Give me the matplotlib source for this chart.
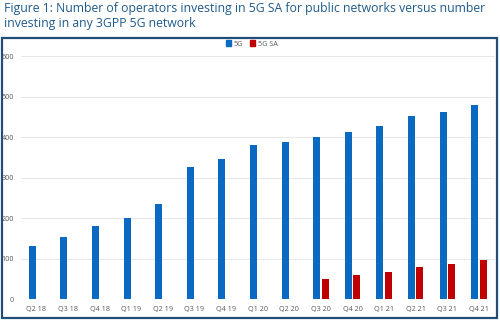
import matplotlib
matplotlib.use("Agg")
import matplotlib.pyplot as plt
import numpy as np
from matplotlib.patches import Rectangle, Patch

quarters = ["Q2 18", "Q3 18", "Q4 18", "Q1 19", "Q2 19", "Q3 19", "Q4 19",
            "Q1 20", "Q2 20", "Q3 20", "Q4 20", "Q1 21", "Q2 21", "Q3 21", "Q4 21"]
any_5g = [132, 153, 181, 200, 234, 326, 347, 381, 387, 401, 412, 427, 453, 463, 480]
sa_5g = [0, 0, 0, 0, 0, 0, 0, 0, 0, 49, 59, 66, 80, 87, 97]

BLUE = "#0a6ac2"
RED = "#c00000"
NAVY = "#1f4e79"
TXT = "#595959"

plt.rcParams["font.family"] = ["Open Sans", "DejaVu Sans"]

fig = plt.figure(figsize=(5.0, 3.21), dpi=100)

# title above the boxed chart
fig.text(4 / 500, 1 - 2 / 321,
         "Figure 1: Number of operators investing in 5G SA for public networks versus number\n"
         "investing in any 3GPP 5G network",
         ha="left", va="top", fontsize=8.8, color="#1f5a8a", linespacing=1.2)

# frame around chart area
fig.patches.append(Rectangle((2 / 500, 3 / 321), 495 / 500, 280 / 321,
                             transform=fig.transFigure, fill=False,
                             edgecolor=NAVY, linewidth=1.6))

ax = fig.add_axes([20.7 / 500, 22 / 321, 474 / 500, 242.7 / 321])
x = np.arange(len(quarters))
w = 0.22
ax.bar(x - 0.135, any_5g, w, color=BLUE, label="5G")
sa_x = [xi for xi, v in zip(x, sa_5g) if v > 0]
sa_v = [v for v in sa_5g if v > 0]
ax.bar(np.array(sa_x) + 0.135, sa_v, w, color=RED, label="5G SA")

ax.set_xlim(-0.5, len(quarters) - 0.5)
ax.set_ylim(0, 600)
ax.set_yticks(range(0, 601, 100))
ax.set_xticks(x)
ax.set_xticklabels(quarters)
ax.tick_params(axis="both", length=0, labelsize=5.2, labelcolor=TXT)
ax.tick_params(axis="y", pad=5)
ax.tick_params(axis="x", pad=5)
ax.grid(axis="y", color="#e3e3e3", linewidth=0.6)
ax.set_axisbelow(True)
for s in ax.spines.values():
    s.set_visible(False)

handles = [Patch(color=BLUE, label="5G"), Patch(color=RED, label="5G SA")]
fig.legend(handles=handles, loc="center", bbox_to_anchor=(252 / 500, 1 - 44 / 321),
           ncol=2, frameon=False, fontsize=5.2, labelcolor=TXT,
           handlelength=0.7, handleheight=0.7, handletextpad=0.4, columnspacing=1.0)

fig.savefig("out.png", dpi=100)
